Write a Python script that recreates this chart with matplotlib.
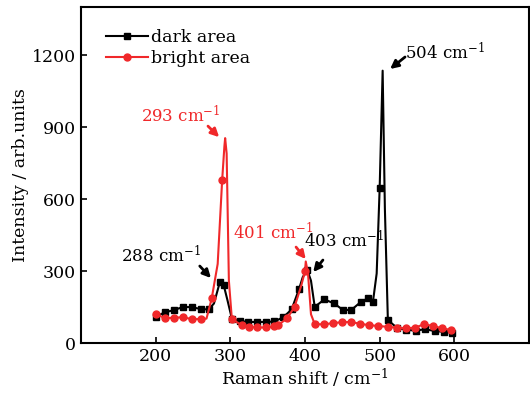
import numpy as np
import matplotlib.pyplot as plt

plt.rcParams['font.family'] = ['DejaVu Serif']
plt.rcParams['mathtext.fontset'] = 'dejavuserif'

# dark area: points drawn with markers
dark_x = [200, 212, 224, 236, 248, 260, 271, 286, 291, 302, 313, 324, 336, 348, 359,
          371, 382, 392, 403, 413, 426, 439, 451, 462, 475, 484, 491, 500, 511, 523,
          535, 549, 561, 574, 586, 597]
dark_y = [110, 128, 137, 150, 150, 142, 140, 255, 242, 102, 92, 88, 88, 88, 90,
          108, 140, 225, 305, 151, 182, 165, 138, 138, 172, 186, 172, 645, 96, 64,
          55, 52, 58, 50, 47, 44]
# dark area: extra line points (no marker)
dark_px = [278, 296, 397, 408, 496, 504, 507]
dark_py = [165, 180, 275, 260, 290, 1135, 560]

# bright area: points drawn with markers
bright_x = [200, 212, 224, 236, 248, 260, 275, 289, 302, 315, 325, 336, 348, 359,
            364, 376, 386, 400, 413, 425, 437, 449, 462, 474, 486, 498, 511, 523,
            535, 547, 559, 571, 583, 596]
bright_y = [120, 105, 105, 108, 100, 100, 186, 679, 100, 75, 68, 65, 65, 70,
            75, 103, 151, 300, 79, 78, 83, 87, 88, 80, 75, 71, 68, 64,
            62, 64, 78, 72, 62, 54]
bright_px = [268, 283, 292, 293, 295, 298, 395, 401, 404, 408]
bright_py = [102, 330, 820, 854, 790, 260, 240, 340, 290, 120]

# peak labels: text, text position, arrow tail, arrow head
labels = ['293 cm$^{-1}$', '504 cm$^{-1}$', '288 cm$^{-1}$', '401 cm$^{-1}$', '403 cm$^{-1}$']
label_pos = [(233, 950), (534, 1212), (260, 367), (304, 462), (399, 428)]
label_ha = ['center', 'left', 'right', 'left', 'left']
arrow_tail = [(270, 904), (534, 1192), (259, 321), (388, 400), (424, 346)]
arrow_head = [(285, 858), (514, 1142), (274, 271), (401, 350), (411, 296)]


def merge(xm, ym, xp, yp):
    x = np.array(xm + xp)
    y = np.array(ym + yp)
    marked = np.array([True] * len(xm) + [False] * len(xp))
    order = np.argsort(x, kind='stable')
    return x[order], y[order], list(np.where(marked[order])[0])


dx, dy, dmark = merge(dark_x, dark_y, dark_px, dark_py)
bx, by, bmark = merge(bright_x, bright_y, bright_px, bright_py)

red = '#f0282a'
label_col = [red, 'black', 'black', red, 'black']

fig = plt.figure(figsize=(5.3, 3.93), dpi=100)
ax = fig.add_axes([0.153, 0.127, 0.845, 0.855])

ax.plot(dx, dy, color='black', lw=1.5, marker='s', ms=4.5,
        markevery=dmark, label='dark area')
ax.plot(bx, by, color=red, lw=1.5, marker='o', ms=5,
        markevery=bmark, label='bright area')

ax.set_xlim(100, 700)
ax.set_ylim(0, 1400)
ax.set_xticks([200, 300, 400, 500, 600])
ax.set_yticks([0, 300, 600, 900, 1200])
ax.tick_params(direction='in', length=4, width=1.2, labelsize=12.5)
for s in ax.spines.values():
    s.set_linewidth(1.5)

ax.set_xlabel('Raman shift / cm$^{-1}$', fontsize=12.5, labelpad=1)
ax.set_ylabel('Intensity / arb.units', fontsize=12.5, labelpad=2)

ax.legend(loc='upper left', bbox_to_anchor=(0.04, 0.955), frameon=False,
          fontsize=12.5, handlelength=2.4, handletextpad=0.2,
          labelspacing=0.25, borderaxespad=0)

for txt, pos, ha, tail, head, col in zip(labels, label_pos, label_ha,
                                          arrow_tail, arrow_head, label_col):
    ax.text(pos[0], pos[1], txt, color=col, fontsize=12, ha=ha, va='center')
    ax.annotate('', xy=head, xytext=tail,
                arrowprops=dict(arrowstyle='-|>', lw=2, color=col,
                                mutation_scale=12, shrinkA=0, shrinkB=0))

fig.savefig('out.png', dpi=100)
